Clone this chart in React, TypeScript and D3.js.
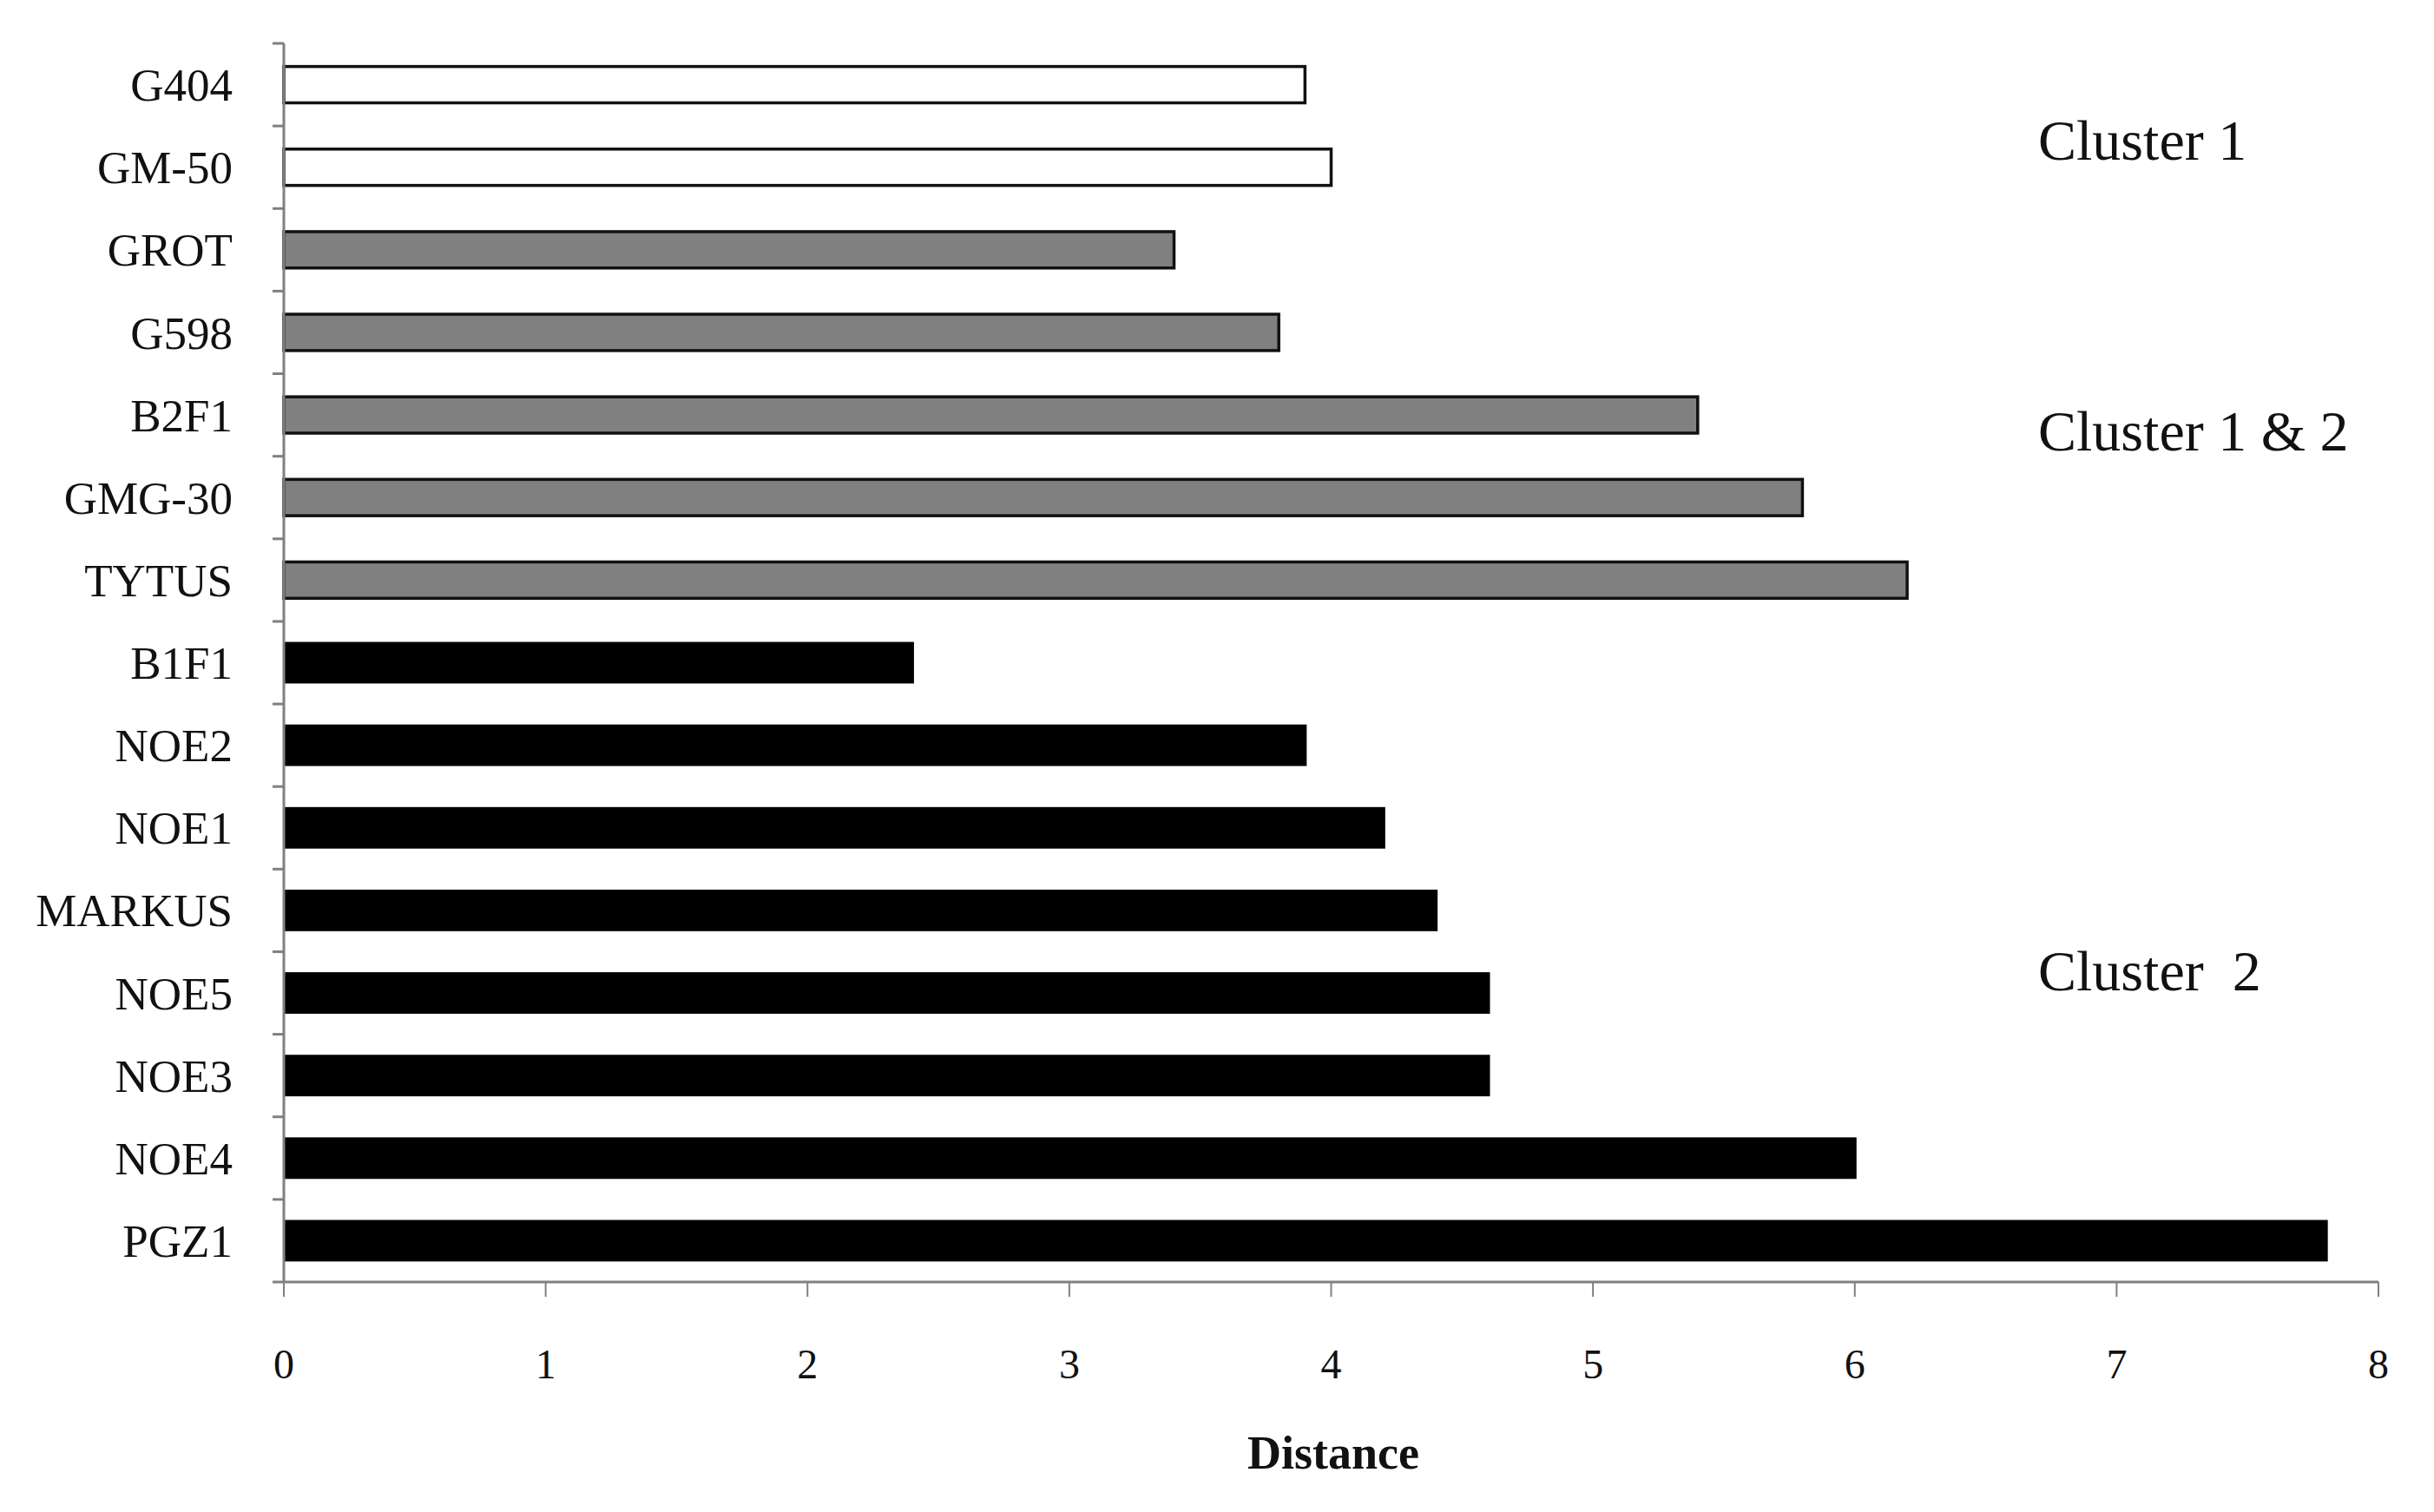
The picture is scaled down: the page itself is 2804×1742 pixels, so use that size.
import React from "react";
import * as d3 from "d3";

const categories = ["G404", "GM-50", "GROT", "G598", "B2F1", "GMG-30", "TYTUS", "B1F1", "NOE2", "NOE1", "MARKUS", "NOE5", "NOE3", "NOE4", "PGZ1"];
const distances = [3.9, 4.0, 3.4, 3.8, 5.4, 5.8, 6.2, 2.4, 3.9, 4.2, 4.4, 4.6, 4.6, 6.0, 7.8];
const groups = ["c1", "c1", "c12", "c12", "c12", "c12", "c12", "c2", "c2", "c2", "c2", "c2", "c2", "c2", "c2"];
const xTicks = [0, 1, 2, 3, 4, 5, 6, 7, 8];
const clusterLabels = ["Cluster 1", "Cluster 1 & 2", "Cluster  2"];
const clusterAnchors = ["GM-50", "B2F1", "NOE5"];

const groupFill: Record<string, string> = { c1: "#ffffff", c12: "#808080", c2: "#000000" };

export default function App() {
  const W = 2804, H = 1742;
  const left = 327, right = 2740, top = 50, bottom = 1477;
  const x = d3.scaleLinear().domain([0, 8]).range([left, right]);
  const y = d3.scaleBand<string>().domain(categories).range([top, bottom]).paddingInner(0.56).paddingOuter(0.28);
  const yb = d3.scaleBand<string>().domain(categories).range([top, bottom]);
  const serif = "'Liberation Serif', 'Times New Roman', serif";
  const axisColor = "#808080";
  const clusterOffsets = [39, 88, 45];

  return (
    <svg width={W} height={H} style={{ position: "absolute", left: 0, top: 0, background: "#fff" }}>
      <rect x={0} y={0} width={W} height={H} fill="#fff" />
      {categories.map((c, i) =>
        groups[i] === "c2" ? (
          <rect
            key={c}
            x={x(0)}
            y={y(c)! - 3}
            width={x(distances[i]) - x(0) + 2}
            height={y.bandwidth() + 6}
            fill={groupFill[groups[i]]}
          />
        ) : (
          <rect
            key={c}
            x={x(0)}
            y={y(c)!}
            width={x(distances[i]) - x(0)}
            height={y.bandwidth()}
            fill={groupFill[groups[i]]}
            stroke="#111"
            strokeWidth={3.5}
          />
        )
      )}
      {/* y axis */}
      <line x1={left} x2={left} y1={top} y2={bottom} stroke={axisColor} strokeWidth={3} />
      {categories.map((c) => (
        <line key={"t" + c} x1={left - 13} x2={left} y1={yb(c)!} y2={yb(c)!} stroke={axisColor} strokeWidth={3} />
      ))}
      <line x1={left - 13} x2={left} y1={bottom} y2={bottom} stroke={axisColor} strokeWidth={3} />
      {categories.map((c) => (
        <text
          key={"l" + c}
          x={268}
          y={yb(c)! + yb.bandwidth() / 2}
          dy="0.35em"
          textAnchor="end"
          fontFamily={serif}
          fontSize={53}
          fill="#111"
        >
          {c}
        </text>
      ))}
      {/* x axis */}
      <line x1={left} x2={right} y1={bottom} y2={bottom} stroke={axisColor} strokeWidth={3} />
      {xTicks.map((t) => (
        <g key={"x" + t}>
          <line x1={x(t)} x2={x(t)} y1={bottom} y2={bottom + 17} stroke={axisColor} strokeWidth={2} />
          <text x={x(t)} y={1588} textAnchor="middle" fontFamily={serif} fontSize={48} fill="#111">
            {t}
          </text>
        </g>
      ))}
      <text x={1536} y={1692} textAnchor="middle" fontFamily={serif} fontSize={54} fontWeight="bold" fill="#111">
        Distance
      </text>
      {clusterLabels.map((lab, i) => (
        <text
          key={lab}
          x={2348}
          y={yb(clusterAnchors[i])! + clusterOffsets[i]}
          fontFamily={serif}
          fontSize={66}
          fill="#111"
          style={{ whiteSpace: "pre" }}
        >
          {lab}
        </text>
      ))}
    </svg>
  );
}
